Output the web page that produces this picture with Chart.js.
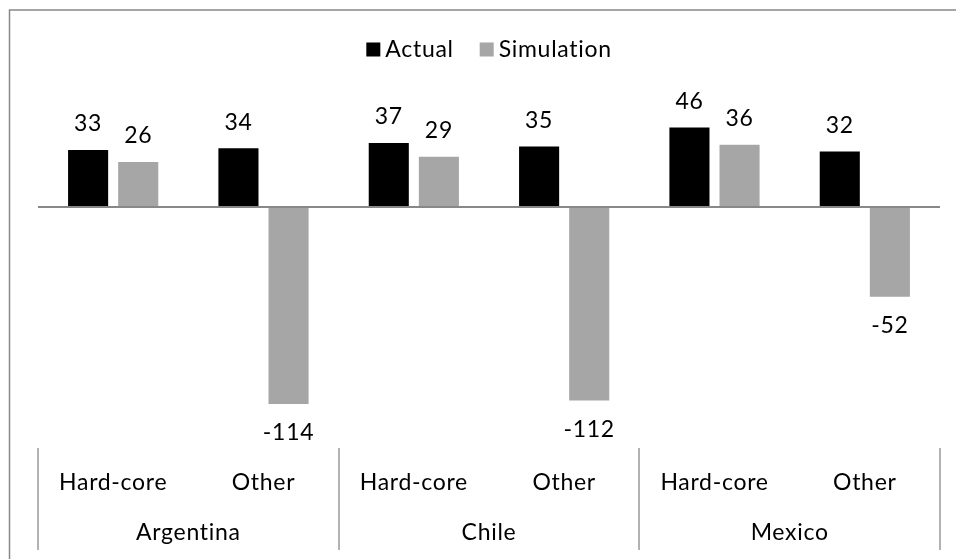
<!DOCTYPE html>
<html>
<head>
<meta charset="utf-8">
<title>Actual vs Simulation</title>
<script src="https://cdn.jsdelivr.net/npm/chart.js@4.4.1/dist/chart.umd.min.js"></script>
<style>
  html, body { margin: 0; padding: 0; background: #ffffff; }
  #wrap { position: relative; width: 956px; height: 559px; }
</style>
</head>
<body>
<div id="wrap"><canvas id="chart" width="956" height="559"></canvas></div>
<script>
// Two-level categories: country groups, each with a Hard-core / Other split
const countries = ['Argentina', 'Chile', 'Mexico'];
const segments = ['Hard-core', 'Other'];
const categories = ['Hard-core', 'Other', 'Hard-core', 'Other', 'Hard-core', 'Other'];

const actualValues = [33, 34, 37, 35, 46, 32];
const simulationValues = [26, -114, 29, -112, 36, -52];

const FONT = '23px Lato, "Open Sans", sans-serif';
const LETTER_SPACING = '0.7px';
const TEXT_COLOR = '#000000';
const LINE_COLOR = '#888888';

// Draws the frame, zero line, value labels, legend and the grouped category axis
const decorations = {
  id: 'decorations',
  beforeDraw(chart) {
    const ctx = chart.ctx;
    ctx.save();
    ctx.strokeStyle = LINE_COLOR;
    ctx.lineWidth = 1.5;
    ctx.beginPath();
    ctx.moveTo(9.5, 559);
    ctx.lineTo(9.5, 10);
    ctx.lineTo(956, 10);
    ctx.stroke();
    ctx.restore();
  },
  afterDatasetsDraw(chart) {
    const ctx = chart.ctx;
    const area = chart.chartArea;
    const x = chart.scales.x;
    const y = chart.scales.y;
    const zero = y.getPixelForValue(0);

    ctx.save();
    // zero line
    ctx.strokeStyle = LINE_COLOR;
    ctx.lineWidth = 2;
    ctx.beginPath();
    ctx.moveTo(area.left, zero);
    ctx.lineTo(area.right, zero);
    ctx.stroke();

    // value labels at the outer end of each bar
    ctx.font = FONT;
    if ('letterSpacing' in ctx) ctx.letterSpacing = LETTER_SPACING;
    ctx.fillStyle = TEXT_COLOR;
    ctx.textAlign = 'center';
    ctx.textBaseline = 'alphabetic';
    chart.data.datasets.forEach((ds, di) => {
      const meta = chart.getDatasetMeta(di);
      meta.data.forEach((bar, i) => {
        const v = ds.data[i];
        const end = y.getPixelForValue(v);
        const ty = v >= 0 ? end - 18.5 : end + 36;
        ctx.fillText(String(v), bar.x, ty);
      });
    });

    // category axis: segment labels, country labels, separators
    const step = x.getPixelForValue(1) - x.getPixelForValue(0);
    categories.forEach((c, i) => {
      ctx.fillText(c, x.getPixelForValue(i), 490);
    });
    countries.forEach((c, gi) => {
      const left = x.getPixelForValue(gi * segments.length) - step / 2;
      const right = left + step * segments.length;
      ctx.fillText(c, (left + right) / 2, 540);
    });
    ctx.strokeStyle = '#999999';
    ctx.lineWidth = 1.5;
    for (let gi = 0; gi <= countries.length; gi++) {
      const bx = Math.round(x.getPixelForValue(0) - step / 2 + gi * step * segments.length);
      ctx.beginPath();
      ctx.moveTo(bx, 448);
      ctx.lineTo(bx, 550);
      ctx.stroke();
    }

    // legend
    const box = 14, boxGap = 5, itemGap = 26;
    const items = chart.data.datasets.map(ds => ({
      label: ds.label, color: ds.backgroundColor, w: ctx.measureText(ds.label).width
    }));
    const total = items.reduce((s, it) => s + box + boxGap + it.w, 0) + itemGap * (items.length - 1);
    let lx = (area.left + area.right) / 2 - total / 2;
    ctx.textAlign = 'left';
    items.forEach(it => {
      ctx.fillStyle = it.color;
      ctx.fillRect(lx, 42.5, box, box);
      ctx.fillStyle = TEXT_COLOR;
      ctx.fillText(it.label, lx + box + boxGap, 57);
      lx += box + boxGap + it.w + itemGap;
    });
    ctx.restore();
  }
};

function draw() {
  new Chart(document.getElementById('chart'), {
    type: 'bar',
    data: {
      labels: categories,
      datasets: [
        { label: 'Actual', data: actualValues, backgroundColor: '#000000', borderWidth: 0 },
        { label: 'Simulation', data: simulationValues, backgroundColor: '#a6a6a6', borderWidth: 0 }
      ]
    },
    options: {
      responsive: false,
      animation: false,
      devicePixelRatio: 1,
      layout: { padding: { left: 38, right: 16, top: 120.5, bottom: 110 } },
      datasets: { bar: { categoryPercentage: 2 / 3, barPercentage: 0.8 } },
      scales: {
        x: { display: false, offset: true, grid: { display: false } },
        y: { display: false, min: -140, max: 50, grid: { display: false } }
      },
      plugins: {
        legend: { display: false },
        tooltip: { enabled: false }
      }
    },
    plugins: [decorations]
  });
}

if (document.fonts && document.fonts.load) {
  document.fonts.load(FONT).then(draw, draw);
} else {
  draw();
}
</script>
</body>
</html>
